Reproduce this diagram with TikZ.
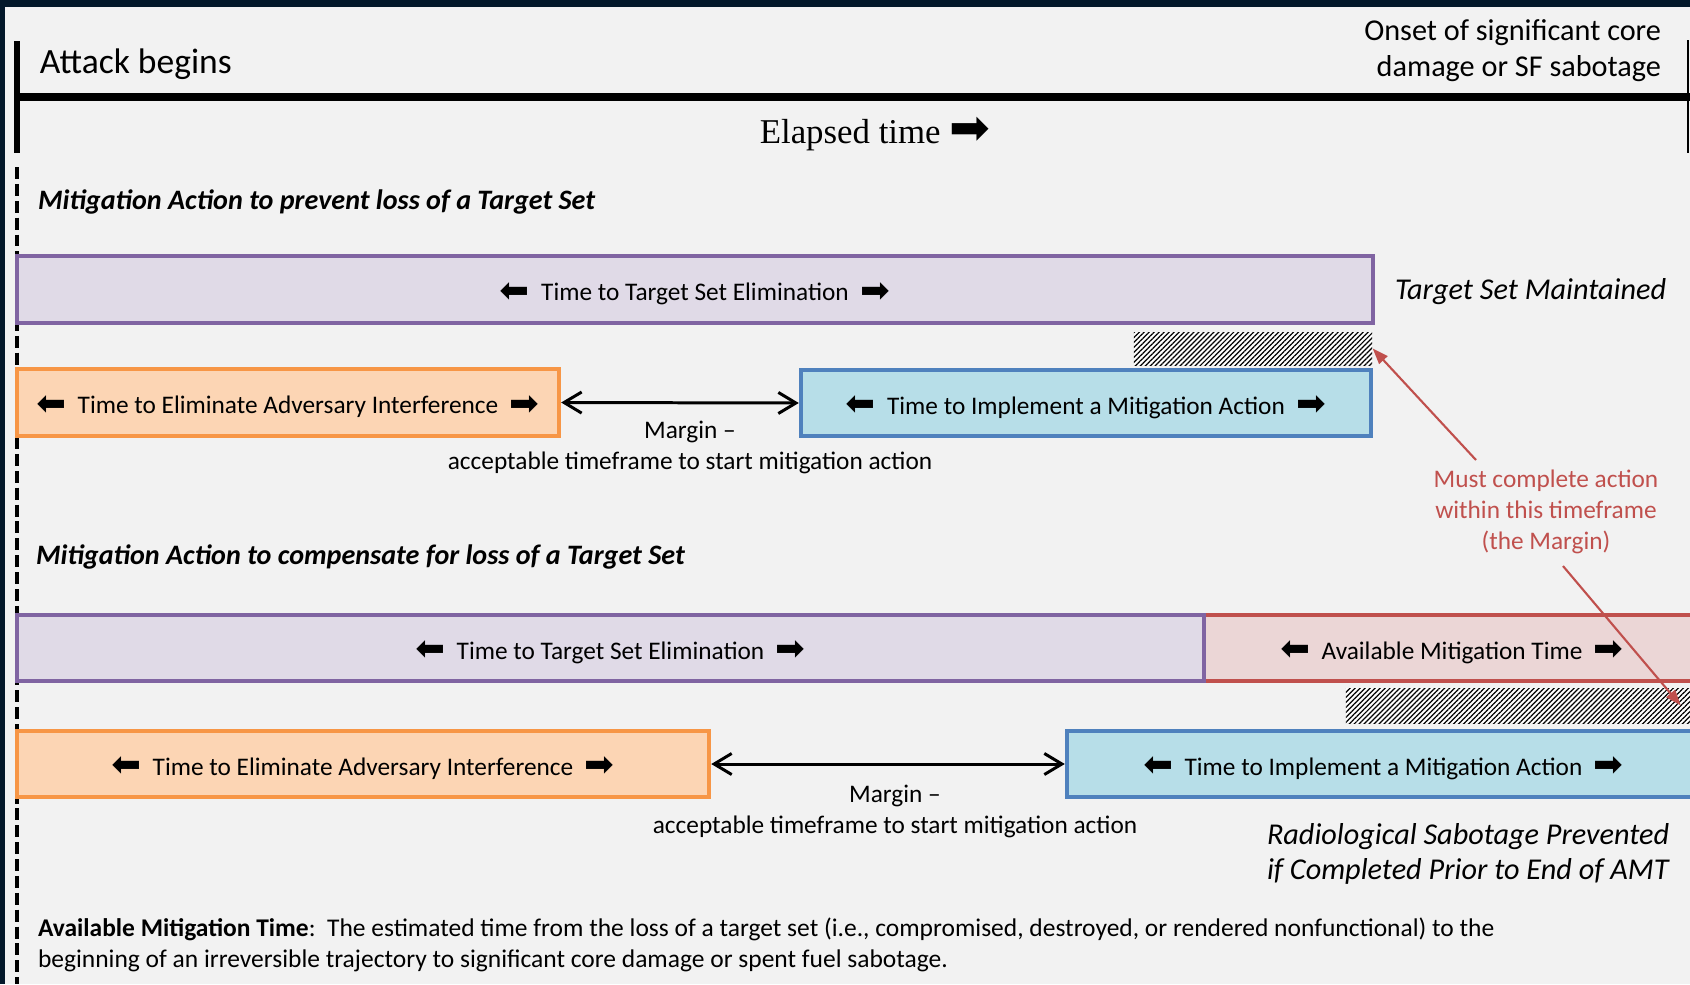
\documentclass[tikz,border=0pt]{standalone}
\usepackage{fontspec}
\usepackage{graphicx}
\setmainfont{Carlito}
\newfontfamily\serifface{Liberation Serif}
\newfontfamily\symface{DejaVu Sans}
\usepackage{tikz}
\usetikzlibrary{arrows.meta, positioning, patterns.meta}
\definecolor{tlback}{HTML}{F2F2F2}
\definecolor{tlframe}{HTML}{03182A}
\definecolor{tspurple}{HTML}{8064A2}
\definecolor{tspurplefill}{HTML}{E0DAE7}
\definecolor{eaorange}{HTML}{F79646}
\definecolor{eaorangefill}{HTML}{FCD5B4}
\definecolor{imblue}{HTML}{4F81BD}
\definecolor{imbluefill}{HTML}{B7DEE8}
\definecolor{amtred}{HTML}{C0504D}
\definecolor{amtredfill}{HTML}{EBD6D6}
\newcommand{\rarr}{\raisebox{-0.12ex}{\scalebox{1.4}{\symface ➡}}}
\newcommand{\larr}{\raisebox{-0.12ex}{\scalebox{-1.4}[1.4]{\symface ➡}}}
\newcommand{\barlabel}[1]{\larr\hspace{0.45em}#1\hspace{0.45em}\rarr}

\begin{document}
\begin{tikzpicture}[x=0.01cm, y=-0.01cm,
    lbl/.style={inner sep=0pt, outer sep=0pt},
    bar/.style={rectangle, inner sep=0pt, line width=1.15pt, text height=1.6ex, text depth=0.25ex, font=\fontsize{7.2}{8.8}\selectfont},
    targetbox/.style={bar, draw=tspurple, fill=tspurplefill, minimum height=0.67cm},
    elimbox/.style={bar, draw=eaorange, fill=eaorangefill, minimum height=0.67cm},
    implbox/.style={bar, draw=imblue, fill=imbluefill, minimum height=0.66cm},
    amtbox/.style={bar, draw=amtred, fill=amtredfill, minimum height=0.66cm},
    hatchbox/.style={rectangle, inner sep=0pt, preaction={fill=white},
        pattern={Lines[angle=45, distance=1pt, line width=0.35pt]}},
    marginarrow/.style={{Straight Barb[length=5pt, width=6pt]}-{Straight Barb[length=5pt, width=6pt]}, line width=0.85pt},
    notearrow/.style={-{Triangle[length=4.5pt, width=3.2pt]}, draw=amtred, line width=0.6pt},
    margintext/.style={lbl, align=center, font=\fontsize{7.2}{8.8}\selectfont},
    heading/.style={lbl, anchor=west, font=\bfseries\itshape\fontsize{8}{9.5}\selectfont}
]
\clip (0,0) rectangle (1690,984);
% background and frame
\fill[tlback] (0,0) rectangle (1690,984);
\fill[tlframe] (0,0) rectangle (1690,7);
\fill[tlframe] (0,0) rectangle (5,984);

% Time line
\draw[line width=1.7pt] (17,41) -- (17,153);
\draw[line width=2.3pt] (17,97) -- (1690,97);
\draw[line width=0.45pt] (1688,40) -- (1688,153);
\draw[line width=1.1pt, dash pattern=on 3.4pt off 1.4pt] (17,167) -- (17,984);
\node[lbl, anchor=west, font=\fontsize{10.1}{12}\selectfont] (attack) at (40,64.5) {Attack begins};
\node[lbl, anchor=east, align=right, font=\fontsize{8.6}{10.2}\selectfont] (onset) at (1661,51) {Onset of significant core\\damage or SF sabotage};
\node[lbl, font=\serifface\fontsize{9.9}{12}\selectfont] (elapsed) at (875,134) {Elapsed time \rarr};

% Mitigation to prevent loss
\node[heading] (headA) at (38,201.5) {Mitigation Action to prevent loss of a Target Set};
\node[targetbox, minimum width=13.56cm] (targetA) at (695,289.5) {\barlabel{Time to Target Set Elimination}};
\node[lbl, anchor=west, font=\itshape\fontsize{8.6}{10}\selectfont] (maintained) at (1395,291.5) {Target Set Maintained};
\node[hatchbox, minimum width=2.38cm, minimum height=0.33cm] (hatchA) at (1253,348.5) {};
\node[elimbox, minimum width=5.42cm] (elimA) at (288,402.5) {\barlabel{Time to Eliminate Adversary Interference}};
\node[implbox, minimum width=5.70cm] (implA) at (1086,403) {\barlabel{Time to Implement a Mitigation Action}};
\draw[marginarrow] (elimA.east) -- (implA.west);
\node[margintext] (marginA) at (690,447.5) {Margin --\\acceptable timeframe to start mitigation action};

% Red note
\node[margintext, text=amtred] (mustnote) at (1546,512) {Must complete action\\within this timeframe\\(the Margin)};
\coordinate (noteA) at (1476,460);
\coordinate (noteB) at (1563,566);
\draw[notearrow] (noteA) -- (hatchA.east);

% Mitigation to compensate for loss
\node[heading] (headB) at (36,556.5) {Mitigation Action to compensate for loss of a Target Set};
\node[amtbox, minimum width=4.96cm] (amtB) at (1452,648) {\barlabel{Available Mitigation Time}};
\node[targetbox, minimum width=11.87cm, minimum height=0.66cm] (targetB) at (610.5,648) {\barlabel{Time to Target Set Elimination}};
\node[hatchbox, minimum width=3.44cm, minimum height=0.35cm] (hatchB) at (1518,705.5) {};
\draw[notearrow] (noteB) -- ([xshift=-0.1cm]hatchB.east);
\node[elimbox, minimum width=6.92cm, minimum height=0.66cm] (elimB) at (363,764) {\barlabel{Time to Eliminate Adversary Interference}};
\node[implbox, minimum width=6.33cm] (implB) at (1383.5,764) {\barlabel{Time to Implement a Mitigation Action}};
\draw[marginarrow] (elimB.east) -- (implB.west);
\node[margintext] (marginB) at (895,811.5) {Margin --\\acceptable timeframe to start mitigation action};
\node[lbl, anchor=west, align=left, font=\itshape\fontsize{8.6}{10}\selectfont] (prevented) at (1267,854) {Radiological Sabotage Prevented\\if Completed Prior to End of AMT};

% Definition
\node[lbl, anchor=west, align=left, font=\fontsize{7.25}{8.8}\selectfont] (amtdef) at (38,945) {\textbf{Available Mitigation Time}:\ \ The estimated time from the loss of a target set (i.e., compromised, destroyed, or rendered nonfunctional) to the\\beginning of an irreversible trajectory to significant core damage or spent fuel sabotage.};
\end{tikzpicture}
\end{document}
